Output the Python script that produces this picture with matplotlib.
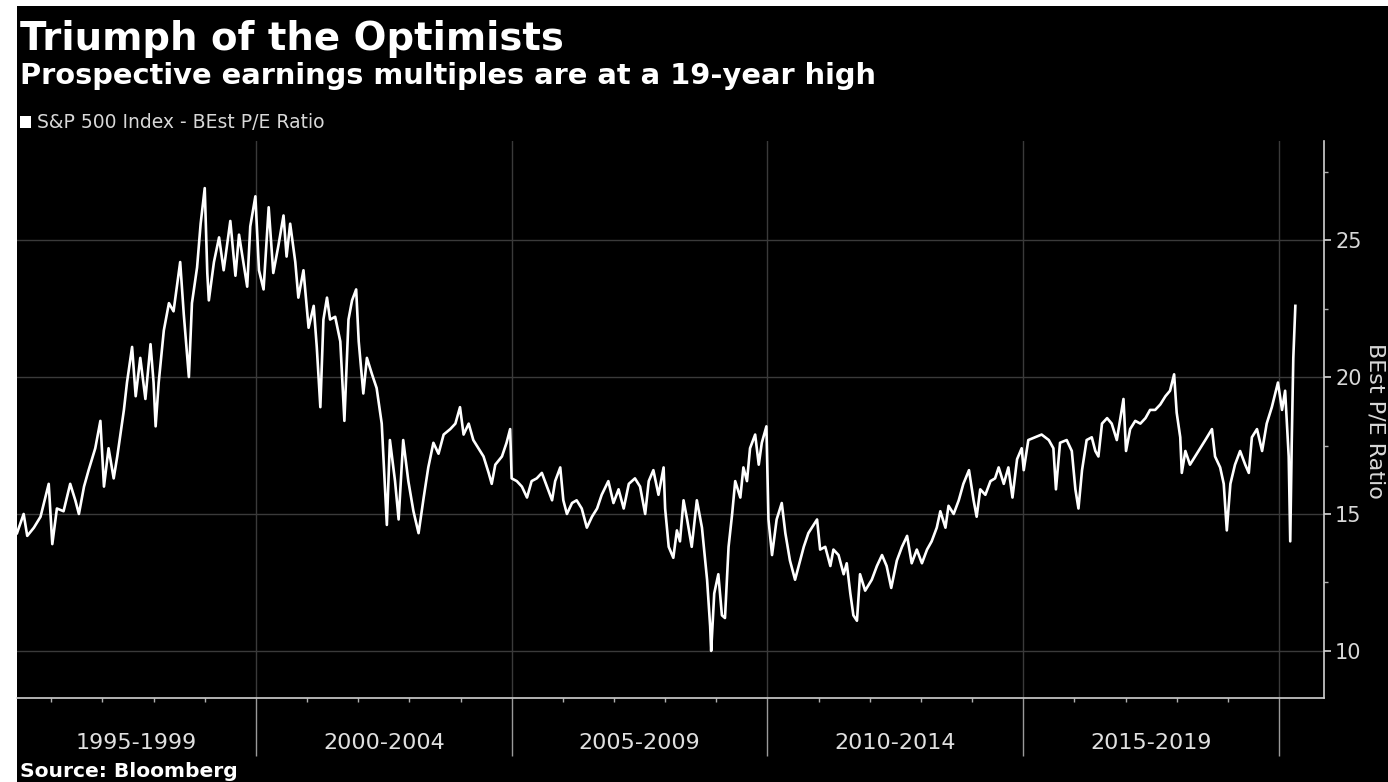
import numpy as np
import matplotlib.pyplot as plt
import matplotlib.transforms as mtransforms
from matplotlib.patches import Rectangle, Patch

# S&P 500 Index - BEst P/E ratio (decimal year, ratio)
dates = [
    1995.33, 1995.46, 1995.53, 1995.66, 1995.79, 1995.95, 1996.02, 1996.11, 1996.24, 1996.37,
    1996.47, 1996.54, 1996.64, 1996.73, 1996.86, 1996.96, 1997.03, 1997.12, 1997.22, 1997.29,
    1997.42, 1997.48, 1997.58, 1997.65, 1997.74, 1997.84, 1997.94, 1998.00, 1998.04, 1998.10,
    1998.20, 1998.30, 1998.39, 1998.52, 1998.59, 1998.69, 1998.75, 1998.85, 1998.92, 1999.00,
    1999.05, 1999.08, 1999.18, 1999.28, 1999.37, 1999.50, 1999.60, 1999.67, 1999.83, 1999.89,
    1999.99, 2000.06, 2000.15, 2000.25, 2000.34, 2000.44, 2000.54, 2000.60, 2000.67, 2000.77,
    2000.83, 2000.93, 2001.03, 2001.13, 2001.19, 2001.26, 2001.32, 2001.39, 2001.45, 2001.55,
    2001.65, 2001.73, 2001.81, 2001.88, 2001.96, 2002.01, 2002.10, 2002.17, 2002.27, 2002.36,
    2002.46, 2002.56, 2002.62, 2002.72, 2002.79, 2002.88, 2002.98, 2003.08, 2003.18, 2003.28,
    2003.37, 2003.47, 2003.57, 2003.67, 2003.80, 2003.90, 2003.99, 2004.06, 2004.16, 2004.25,
    2004.35, 2004.45, 2004.55, 2004.61, 2004.68, 2004.81, 2004.90, 2004.97, 2005.00, 2005.10,
    2005.20, 2005.30, 2005.39, 2005.49, 2005.59, 2005.69, 2005.79, 2005.85, 2005.95, 2006.01,
    2006.08, 2006.18, 2006.27, 2006.37, 2006.47, 2006.57, 2006.67, 2006.76, 2006.89, 2006.99,
    2007.09, 2007.19, 2007.29, 2007.41, 2007.51, 2007.61, 2007.68, 2007.77, 2007.87, 2007.97,
    2008.00, 2008.07, 2008.16, 2008.23, 2008.29, 2008.36, 2008.43, 2008.52, 2008.62, 2008.72,
    2008.82, 2008.88, 2008.90, 2008.96, 2009.04, 2009.11, 2009.17, 2009.24, 2009.31, 2009.37,
    2009.47, 2009.53, 2009.60, 2009.66, 2009.76, 2009.83, 2009.89, 2009.98, 2010.02, 2010.09,
    2010.18, 2010.28, 2010.35, 2010.44, 2010.54, 2010.64, 2010.71, 2010.80, 2010.97, 2011.03,
    2011.13, 2011.23, 2011.29, 2011.39, 2011.49, 2011.55, 2011.62, 2011.68, 2011.75, 2011.81,
    2011.91, 2012.04, 2012.14, 2012.24, 2012.33, 2012.42, 2012.53, 2012.63, 2012.73, 2012.82,
    2012.92, 2013.02, 2013.12, 2013.21, 2013.31, 2013.38, 2013.48, 2013.54, 2013.64, 2013.74,
    2013.83, 2013.94, 2014.03, 2014.09, 2014.16, 2014.26, 2014.36, 2014.45, 2014.52, 2014.62,
    2014.71, 2014.79, 2014.88, 2014.97, 2015.01, 2015.10, 2015.23, 2015.36, 2015.50, 2015.59,
    2015.64, 2015.72, 2015.85, 2015.95, 2016.02, 2016.08, 2016.15, 2016.24, 2016.34, 2016.41,
    2016.47, 2016.54, 2016.64, 2016.73, 2016.83, 2016.90, 2016.96, 2017.01, 2017.09, 2017.19,
    2017.29, 2017.39, 2017.48, 2017.58, 2017.68, 2017.78, 2017.87, 2017.95, 2018.00, 2018.07,
    2018.10, 2018.17, 2018.26, 2018.36, 2018.46, 2018.56, 2018.69, 2018.75, 2018.85, 2018.92,
    2018.98, 2019.05, 2019.14, 2019.24, 2019.34, 2019.41, 2019.47, 2019.57, 2019.67, 2019.76,
    2019.86, 2019.98, 2020.06, 2020.12, 2020.15, 2020.19, 2020.22, 2020.25, 2020.28, 2020.32,
]
pe = [
    14.3, 15.0, 14.2, 14.5, 14.9, 16.1, 13.9, 15.2, 15.1, 16.1,
    15.5, 15.0, 16.0, 16.6, 17.4, 18.4, 16.0, 17.4, 16.3, 17.1,
    18.8, 19.8, 21.1, 19.3, 20.7, 19.2, 21.2, 19.8, 18.2, 19.8,
    21.7, 22.7, 22.4, 24.2, 22.3, 20.0, 22.7, 24.0, 25.6, 26.9,
    23.8, 22.8, 24.2, 25.1, 23.9, 25.7, 23.7, 25.2, 23.3, 25.5,
    26.6, 23.9, 23.2, 26.2, 23.8, 24.8, 25.9, 24.4, 25.6, 24.2,
    22.9, 23.9, 21.8, 22.6, 21.1, 18.9, 22.1, 22.9, 22.1, 22.2,
    21.3, 18.4, 22.1, 22.8, 23.2, 21.3, 19.4, 20.7, 20.1, 19.6,
    18.3, 14.6, 17.7, 16.2, 14.8, 17.7, 16.2, 15.1, 14.3, 15.6,
    16.7, 17.6, 17.2, 17.9, 18.1, 18.3, 18.9, 17.9, 18.3, 17.7,
    17.4, 17.1, 16.5, 16.1, 16.8, 17.1, 17.6, 18.1, 16.3, 16.2,
    16.0, 15.6, 16.2, 16.3, 16.5, 16.0, 15.5, 16.2, 16.7, 15.5,
    15.0, 15.4, 15.5, 15.2, 14.5, 14.9, 15.2, 15.7, 16.2, 15.4,
    15.9, 15.2, 16.1, 16.3, 16.0, 15.0, 16.2, 16.6, 15.7, 16.7,
    15.2, 13.8, 13.4, 14.4, 14.0, 15.5, 14.8, 13.8, 15.5, 14.5,
    12.6, 10.9, 10.0, 12.1, 12.8, 11.3, 11.2, 13.8, 15.0, 16.2,
    15.6, 16.7, 16.2, 17.4, 17.9, 16.8, 17.6, 18.2, 14.8, 13.5,
    14.8, 15.4, 14.3, 13.3, 12.6, 13.3, 13.8, 14.3, 14.8, 13.7,
    13.8, 13.1, 13.7, 13.5, 12.8, 13.2, 12.1, 11.3, 11.1, 12.8,
    12.2, 12.6, 13.1, 13.5, 13.1, 12.3, 13.3, 13.8, 14.2, 13.2,
    13.7, 13.2, 13.7, 14.0, 14.5, 15.1, 14.5, 15.3, 15.0, 15.5,
    16.1, 16.6, 15.5, 14.9, 15.9, 15.7, 16.2, 16.3, 16.7, 16.1,
    16.7, 15.6, 17.0, 17.4, 16.6, 17.7, 17.8, 17.9, 17.7, 17.4,
    15.9, 17.6, 17.7, 17.3, 15.9, 15.2, 16.6, 17.7, 17.8, 17.3,
    17.1, 18.3, 18.5, 18.3, 17.7, 18.5, 19.2, 17.3, 18.1, 18.4,
    18.3, 18.5, 18.8, 18.8, 19.0, 19.3, 19.5, 20.1, 18.7, 17.8,
    16.5, 17.3, 16.8, 17.1, 17.4, 17.7, 18.1, 17.1, 16.7, 16.1,
    14.4, 16.1, 16.8, 17.3, 16.8, 16.5, 17.8, 18.1, 17.3, 18.3,
    18.9, 19.8, 18.8, 19.5, 18.5, 17.1, 14.0, 17.7, 20.7, 22.6,
]

period_starts = [1995, 2000, 2005, 2010, 2015]
period_labels = ['1995-1999', '2000-2004', '2005-2009', '2010-2014', '2015-2019']
y_ticks = [10, 15, 20, 25]

x_min, x_max = 1995.33, 2020.88
y_min, y_max = 8.28, 28.62

W, H = 1388, 782
fig = plt.figure(figsize=(W / 100, H / 100), dpi=100, facecolor='white')
# black panel (thin white margin left and top)
fig.patches.append(Rectangle((17 / W, 0), 1 - 17 / W, 1 - 6 / H,
                             transform=fig.transFigure, facecolor='black',
                             edgecolor='none', zorder=-10))

ax = fig.add_axes([17 / W, 1 - 698 / H, (1324 - 17) / W, (698 - 141) / H])
ax.set_facecolor('black')

line, = ax.plot(dates, pe, color='white', lw=1.9, label='S&P 500 Index - BEst P/E Ratio')

ax.set_xlim(x_min, x_max)
ax.set_ylim(y_min, y_max)

for s in ['top', 'left']:
    ax.spines[s].set_visible(False)
for s in ['right', 'bottom']:
    ax.spines[s].set_color('#d0d0d0')
    ax.spines[s].set_linewidth(1.2)

# y axis on the right
ax.yaxis.tick_right()
ax.set_yticks(y_ticks)
ax.set_yticks([t + 2.5 for t in y_ticks[:-1]] + [27.5], minor=True)
ax.tick_params(axis='y', which='major', length=5, width=1.2, colors='#d8d8d8',
               labelsize=15, pad=3)
ax.tick_params(axis='y', which='minor', length=3, width=1, color='#b0b0b0')

# x axis: long separators at period boundaries, small yearly ticks
ax.set_xticks(period_starts[1:] + [2020])
ax.set_xticks(np.arange(1996, 2021), minor=True)
ax.tick_params(axis='x', which='major', length=42, width=1, color='#9a9a9a',
               labelbottom=False)
ax.tick_params(axis='x', which='minor', length=3, width=1, color='#b0b0b0')

ax.grid(True, which='major', color='#3a3a3a', lw=1)
ax.set_axisbelow(True)

trans = mtransforms.blended_transform_factory(ax.transData, ax.transAxes)
for start, lab in zip(period_starts, period_labels):
    center = (max(start, x_min) + start + 5) / 2
    ax.text(center, -0.081, lab, transform=trans, ha='center', va='center',
            fontsize=16, color='#e0e0e0')

fig.text(1375 / W, 1 - 421 / H, 'BEst P/E Ratio', rotation=270, ha='center',
         va='center', fontsize=16, color='#d8d8d8')

fig.text(20 / W, 1 - 50 / H, 'Triumph of the Optimists', fontsize=27.8,
         fontweight='bold', color='white', va='baseline')
fig.text(20 / W, 1 - 84 / H, 'Prospective earnings multiples are at a 19-year high',
         fontsize=20.8, fontweight='bold', color='white', va='baseline')
fig.text(20 / W, 1 - 777 / H, 'Source: Bloomberg', fontsize=14.6,
         fontweight='bold', color='white', va='baseline')

fig.legend(handles=[Patch(facecolor='white', edgecolor='none',
                          label=line.get_label())],
           loc='center left', bbox_to_anchor=(20 / W, 1 - 123 / H),
           frameon=False, fontsize=13.5, labelcolor='#d8d8d8',
           handlelength=0.6, handleheight=0.6, handletextpad=0.3,
           borderpad=0, borderaxespad=0)

fig.savefig('out.png', dpi=100, facecolor=fig.get_facecolor())
